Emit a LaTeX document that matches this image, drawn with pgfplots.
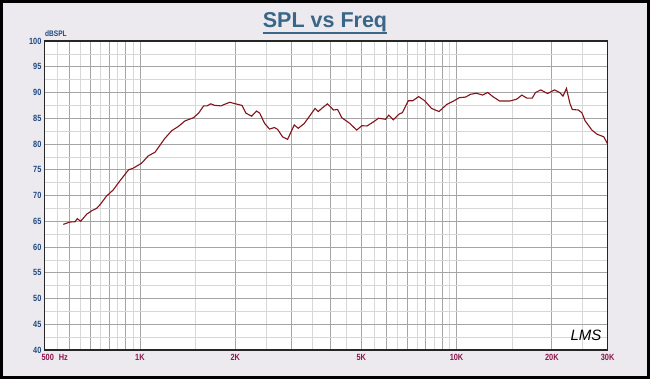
\documentclass[border=0pt]{standalone}
\usepackage{fontspec}
\setmainfont{Liberation Sans}
\newfontfamily\narrow[FakeStretch=0.82]{Liberation Sans}
\usepackage{pgfplots}
\pgfplotsset{compat=1.18}
\definecolor{bgc}{RGB}{237,234,239}
\definecolor{titlec}{RGB}{58,102,135}
\definecolor{ylabc}{RGB}{30,72,128}
\definecolor{xlabc}{RGB}{140,22,80}
\definecolor{curvec}{RGB}{130,20,25}
\definecolor{gmaj}{RGB}{165,165,165}
\definecolor{gmin}{RGB}{215,215,215}
\begin{document}
\begin{tikzpicture}[x=1pt,y=1pt]
\fill[bgc] (0,0) rectangle (650,379);
\draw[black, line width=3pt] (1.5,1.5) rectangle (648.5,377.5);
\node[anchor=base, font=\fontsize{21.5}{22}\selectfont\bfseries, text=titlec, inner sep=0pt] (t) at (325,351) {SPL vs Freq};
\draw[titlec, line width=2pt] ([yshift=-5pt]t.base west) -- ([yshift=-5pt]t.base east);
\node[anchor=base west, font=\narrow\fontsize{8}{8}\selectfont\bfseries, text=ylabc, inner sep=0pt] at (45,342) {dBSPL};
\begin{axis}[
  at={(44.6pt,29pt)}, anchor=south west, scale only axis,
  width=563pt, height=309pt,
  xmode=log, xmin=500, xmax=30000, ymin=40, ymax=100,
  xtick={500,600,700,800,900,1000,2000,3000,4000,5000,6000,7000,8000,9000,10000,20000,30000},
  xticklabels={\makebox[0pt][l]{\hspace{-3pt}500\hspace{5pt}Hz},{},{},{},{},1K,2K,{},{},5K,{},{},{},{},10K,20K,30K},
  minor xtick={550,650,750,850,950,1500,2500,3500,4500,5500,6500,7500,8500,9500,15000,25000},
  ytick={40,45,50,55,60,65,70,75,80,85,90,95,100},
  yticklabels={40,45,50,55,60,65,70,75,80,85,90,95,100},
  minor ytick={42.5,47.5,52.5,57.5,62.5,67.5,72.5,77.5,82.5,87.5,92.5,97.5},
  grid=both,
  major grid style={gmaj, line width=0.8pt},
  minor grid style={gmin, line width=0.6pt},
  major tick length=0pt, minor tick length=0pt,
  axis line style={black!85, line width=1.6pt},
  axis background/.style={fill=white},
  yticklabel style={font=\narrow\fontsize{9}{9}\selectfont\bfseries, text=ylabc, inner sep=0pt, xshift=-3pt},
  xticklabel style={font=\narrow\fontsize{9}{9}\selectfont\bfseries, text=xlabc, inner sep=0pt, yshift=-4.5pt},
]
\addplot[curvec, line width=1.1pt, no marks] coordinates {
(573,64.4) (601,64.85) (624,64.9) (634,65.5) (650,65.0) (680,66.4) (705,67.05) (730,67.5) (748,68.2) (785,69.9)
(824,71.1) (866,72.9) (921,75.0) (952,75.3) (1011,76.25) (1063,77.7) (1116,78.4) (1199,81.1) (1261,82.6) (1322,83.4)
(1389,84.5) (1476,85.1) (1533,86.0) (1589,87.4) (1629,87.4) (1673,87.8) (1722,87.5) (1803,87.4) (1868,87.8) (1923,88.1)
(2004,87.8) (2100,87.5) (2160,86.0) (2253,85.4) (2334,86.4) (2389,86.0) (2476,84.0) (2567,82.9) (2658,83.2) (2721,82.85)
(2821,81.4) (2927,80.9) (3072,83.7) (3163,83.05) (3306,84.0) (3574,86.9) (3660,86.3) (3750,86.9) (3913,87.8) (4086,86.6)
(4210,86.7) (4342,85.1) (4600,84.0) (4838,82.7) (5022,83.55) (5213,83.5) (5467,84.3) (5671,85.0) (5964,84.8) (6111,85.6)
(6312,84.7) (6583,85.8) (6748,86.1) (7040,88.4) (7272,88.4) (7587,89.2) (7934,88.4) (8339,86.9) (8805,86.3) (9321,87.7)
(9790,88.35) (10208,89.0) (10671,89.1) (11070,89.65) (11554,89.85) (12085,89.5) (12540,90.0) (13024,89.2) (13670,88.35) (14745,88.35)
(15486,88.7) (16080,89.5) (16688,88.9) (17333,88.9) (17760,90.0) (18440,90.5) (19390,89.8) (20380,90.5) (21160,90.0) (21690,89.3)
(22240,90.8) (22800,87.9) (23200,86.7) (24240,86.6) (24860,86.1) (25470,84.5) (26760,82.7) (27780,81.9) (29170,81.4) (30000,80.0)
};
\end{axis}
\node[font=\fontsize{15}{15}\selectfont\itshape, inner sep=0pt] at (586,44) {LMS};
\end{tikzpicture}
\end{document}
